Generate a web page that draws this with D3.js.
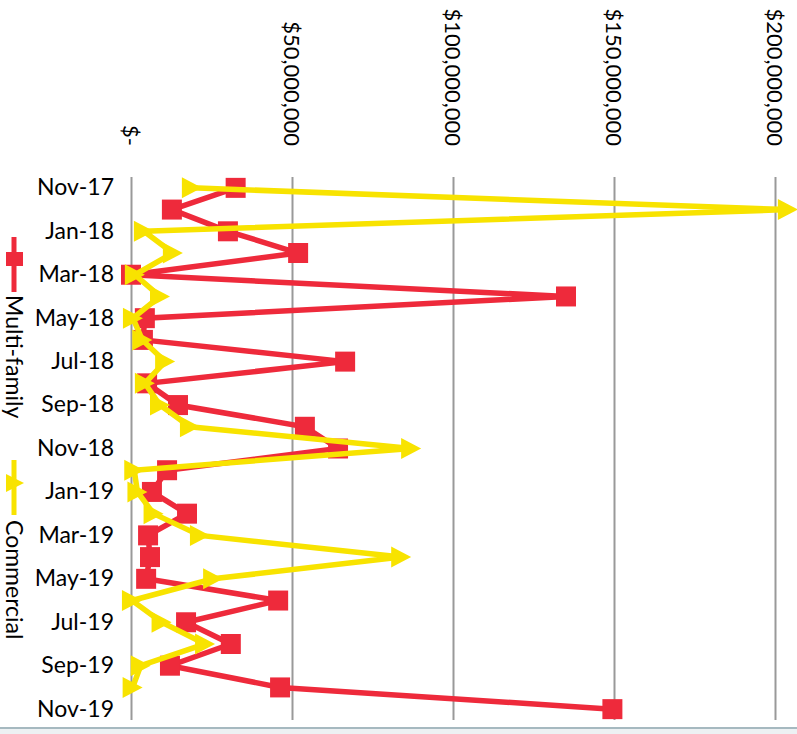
<!DOCTYPE html>
<html>
<head>
<meta charset="utf-8">
<script src="https://cdn.jsdelivr.net/npm/d3@7"></script>
<style>
body { margin: 0; background: #fff; }
text { font-family: Lato, "Open Sans", sans-serif; fill: #000; }
</style>
</head>
<body>
<svg id="chart"></svg>
<script>
var w = 797;
var h = 734;

var months = ["Nov-17","Dec-17","Jan-18","Feb-18","Mar-18","Apr-18","May-18","Jun-18","Jul-18","Aug-18","Sep-18","Oct-18",
  "Nov-18","Dec-18","Jan-19","Feb-19","Mar-19","Apr-19","May-19","Jun-19","Jul-19","Aug-19","Sep-19","Oct-19","Nov-19"];
var labelMonths = months.filter(function(d, i) { return i % 2 == 0; });

// values in $ millions
var multiFamily = [32.5, 12.7, 30.1, 51.9, 0, 135.1, 4.3, 3.7, 66.5, 5, 14.6, 54, 64.3, 11.2, 6.5, 17.4, 5.3, 5.9, 4.7, 45.7, 17.1, 31, 12.1, 46.3, 149.5];
var commercial = [18.9, 204, 4, 13, 1.2, 9, 0.6, 3.5, 10.6, 4.3, 9, 18.3, 87, 1, 2, 7, 21.4, 83.9, 25.5, 0.3, 9.5, 23, 3, 0.5, null];

var ticks = [0, 50, 100, 150, 200];
var seriesNames = ["Multi-family", "Commercial"];
var colors = ["#ee2a3b", "#f8e300"];

var x = d3.scaleLinear().domain([0, 200]).range([131, 775]);
var y = d3.scaleBand().domain(months).range([177, 720]);
var yc = function(m) { return y(m) + y.bandwidth() / 2; };

var svg = d3.select("#chart").attr("width", w).attr("height", h);

svg.append("rect").attr("x", 0).attr("y", 727).attr("width", w).attr("height", 2).attr("fill", "#a6b9c0");
svg.append("rect").attr("x", 0).attr("y", 729).attr("width", w).attr("height", 5).attr("fill", "#edf1f3");

// gridlines
var fmt = function(d) { return d == 0 ? "$-" : "$" + d3.format(",")(d * 1000000); };
var xGrid = d3.axisTop(x).tickValues(ticks).tickSize(-(720 - 177)).tickFormat("");
var gGrid = svg.append("g").attr("transform", "translate(0,177)").call(xGrid);
gGrid.select(".domain").remove();
gGrid.selectAll("line").attr("stroke", "#999").attr("stroke-width", 2);

// rotated value labels
svg.append("g").selectAll("text").data(ticks).enter().append("text")
  .attr("transform", function(d) { return "translate(" + x(d) + ",146) rotate(90)"; })
  .attr("text-anchor", "end")
  .attr("dy", "0.35em")
  .style("font-size", "22px")
  .text(fmt);

// month labels
var yAxis = d3.axisLeft(y).tickValues(labelMonths).tickSize(0).tickPadding(0);
var gY = svg.append("g").attr("transform", "translate(114,0)").call(yAxis);
gY.select(".domain").remove();
gY.selectAll("text").style("font-size", "23px").style("font-family", "Lato, sans-serif").attr("fill", "#000");

var line = d3.line()
  .defined(function(d) { return d[1] != null; })
  .x(function(d) { return x(d[1]); })
  .y(function(d) { return yc(d[0]); });

var square = "M-10,-10H10V10H-10Z";
var tri = "M-10,-10.5L10,0L-10,10.5Z";

var drawSeries = function(values, color, shape) {
  var pts = months.map(function(m, i) { return [m, values[i]]; });
  svg.append("path").attr("d", line(pts)).attr("fill", "none")
    .attr("stroke", color).attr("stroke-width", 5.5).attr("stroke-linejoin", "miter");
  svg.append("g").selectAll("path").data(pts.filter(function(d) { return d[1] != null; })).enter().append("path")
    .attr("d", shape)
    .attr("fill", color)
    .attr("transform", function(d) { return "translate(" + x(d[1]) + "," + yc(d[0]) + ")"; });
};
drawSeries(multiFamily, colors[0], square);
drawSeries(commercial, colors[1], tri);

// legend
var legend = svg.append("g");
legend.append("line").attr("x1", 14).attr("x2", 14).attr("y1", 237).attr("y2", 292)
  .attr("stroke", colors[0]).attr("stroke-width", 5);
legend.append("rect").attr("x", 6).attr("y", 252).attr("width", 17).attr("height", 14).attr("fill", colors[0]);
legend.append("text").attr("transform", "translate(14,295) rotate(90)").attr("dy", "0.35em")
  .style("font-size", "23px").text(seriesNames[0]);

legend.append("line").attr("x1", 14).attr("x2", 14).attr("y1", 460).attr("y2", 515)
  .attr("stroke", colors[1]).attr("stroke-width", 5);
legend.append("path").attr("d", "M-9,-9L9,0L-9,9Z").attr("transform", "translate(15,483)").attr("fill", colors[1]);
legend.append("text").attr("transform", "translate(14,520) rotate(90)").attr("dy", "0.35em")
  .style("font-size", "23px").text(seriesNames[1]);
</script>
</body>
</html>
